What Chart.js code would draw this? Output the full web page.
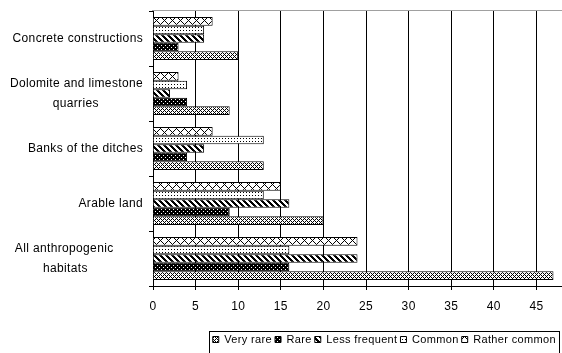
<!DOCTYPE html>
<html><head><meta charset="utf-8">
<script src="https://cdn.jsdelivr.net/npm/chart.js@4/dist/chart.umd.min.js"></script>
<style>html,body{margin:0;padding:0;background:#fff;overflow:hidden}</style>
</head><body><canvas id="c" width="562" height="353"></canvas>
<script>
// ---- data ----
const categories = [
  ["Concrete constructions"],
  ["Dolomite and limestone", "quarries"],
  ["Banks of the ditches"],
  ["Arable land"],
  ["All anthropogenic", "habitats"]
];
const seriesNames = ["Very rare", "Rare", "Less frequent", "Common", "Rather common"];
const veryRare     = [10, 9, 13, 20, 47];
const rare         = [3, 4, 4, 9, 16];
const lessFrequent = [6, 2, 6, 16, 24];
const common       = [6, 4, 13, 13, 16];
const ratherCommon = [7, 3, 7, 15, 24];
const xMin = 0, xMax = 48, xStep = 5;

const FAMILY = '"Liberation Sans", Arial, sans-serif';
const LETTER = '0.35px';

// ---- patterns ----
function makePattern(size, bg, fg, test) {
  const c = document.createElement('canvas');
  c.width = size; c.height = size;
  const g = c.getContext('2d');
  g.fillStyle = bg; g.fillRect(0, 0, size, size);
  g.fillStyle = fg;
  for (let y = 0; y < size; y++) for (let x = 0; x < size; x++) if (test(x, y)) g.fillRect(x, y, 1, 1);
  return g.createPattern(c, 'repeat');
}
const patVeryRare = makePattern(4, '#ffffff', '#000000', (x, y) => (x + y) % 2 === 0 && !(x === 0 && y === 0) && !(x === 2 && y === 2));
const patRare = makePattern(4, '#000000', '#ffffff', (x, y) => (x === 1 && y === 1) || (x === 3 && y === 3));
const patLess = makePattern(6, '#ffffff', '#000000', (x, y) => (((x - y) % 6) + 6) % 6 < 3);
const patCommon = makePattern(3, '#ffffff', '#000000', (x, y) => (x === 0 && y === 0));
const patRather = makePattern(8, '#ffffff', '#000000', (x, y) => (x + y) % 8 === 0 || (((x - y) % 8) + 8) % 8 === 0);

// ---- label centering for wrapped labels ----
const mctx = document.createElement('canvas').getContext('2d');
mctx.font = '12px ' + FAMILY;
try { mctx.letterSpacing = LETTER; } catch (e) {}
const spaceW = mctx.measureText(' ').width;
const labelShift = { 4: 28 };
function formatLabel(i) {
  const lines = categories[i];
  const widths = lines.map(l => mctx.measureText(l).width);
  const maxW = Math.max(...widths);
  const shift = labelShift[i] || 0;
  const out = lines.map((l, k) => l + ' '.repeat(Math.round(((maxW - widths[k]) / 2 + shift) / spaceW)));
  return out.length === 1 ? out[0] : out;
}

const spacingPlugin = {
  id: 'spacing',
  beforeUpdate(chart) { try { chart.ctx.letterSpacing = LETTER; } catch (e) {} },
  beforeDraw(chart) { try { chart.ctx.letterSpacing = LETTER; } catch (e) {} },
  afterLayout(chart) {
    const lg = chart.legend;
    if (lg) {
      const dy = 331 - lg.top;
      lg.top += dy; lg.bottom += dy;
      lg.left -= 3; lg.right -= 3;
    }
  }
};

const framePlugin = {
  id: 'frame',
  afterDraw(chart) {
    const ctx = chart.ctx, a = chart.chartArea;
    ctx.save();
    ctx.strokeStyle = '#a0a0a0';
    ctx.lineWidth = 1;
    ctx.beginPath();
    ctx.moveTo(a.left - 1, a.top - 0.5);
    ctx.lineTo(a.right, a.top - 0.5);
    ctx.stroke();
    const lg = chart.legend;
    if (lg && lg.legendHitBoxes && lg.legendHitBoxes.length) {
      const hb = lg.legendHitBoxes;
      const left = Math.min(...hb.map(b => b.left)) - 4;
      const right = Math.max(...hb.map(b => b.left + b.width)) + 3;
      ctx.strokeStyle = '#000';
      ctx.strokeRect(Math.round(left) + 0.5, Math.round(lg.top) + 0.5, Math.round(right - left), 40);
    }
    ctx.restore();
  }
};

new Chart(document.getElementById('c'), {
  type: 'bar',
  data: {
    labels: categories,
    datasets: [
      { label: seriesNames[4], data: ratherCommon, backgroundColor: patRather },
      { label: seriesNames[3], data: common, backgroundColor: patCommon },
      { label: seriesNames[2], data: lessFrequent, backgroundColor: patLess },
      { label: seriesNames[1], data: rare, backgroundColor: patRare },
      { label: seriesNames[0], data: veryRare, backgroundColor: patVeryRare }
    ].map(d => Object.assign(d, { borderColor: '#000', borderWidth: 1, categoryPercentage: 0.78, barPercentage: 1 }))
  },
  options: {
    indexAxis: 'y',
    responsive: false,
    animation: false,
    devicePixelRatio: 1,
    layout: { padding: { top: 11, left: 0, right: 0, bottom: 0 } },
    scales: {
      x: {
        type: 'linear', min: xMin, max: xMax,
        ticks: { stepSize: xStep, includeBounds: false, color: '#000', font: { size: 12, family: FAMILY }, padding: 9 },
        grid: { color: '#000', lineWidth: 1, tickLength: 4 },
        border: { color: '#000', width: 1 },
        afterFit(s) { s.height = 43; s.paddingLeft = 0; s.paddingRight = 0; }
      },
      y: {
        ticks: { color: '#000', font: { size: 12, family: FAMILY, lineHeight: 1.65 }, padding: 6, autoSkip: false,
                 callback: (v, i) => formatLabel(i) },
        grid: { drawOnChartArea: false, tickLength: 4, color: '#000', offset: true },
        border: { color: '#000', width: 1 },
        afterFit(s) { s.width = 153; s.paddingTop = 0; s.paddingBottom = 0; }
      }
    },
    plugins: {
      legend: {
        position: 'bottom', align: 'end', reverse: true,
        labels: { boxWidth: 6, boxHeight: 6, padding: 3, color: '#000', font: { size: 11, family: FAMILY } }
      },
      tooltip: { enabled: false }
    }
  },
  plugins: [spacingPlugin, framePlugin]
});
</script>
</body></html>
